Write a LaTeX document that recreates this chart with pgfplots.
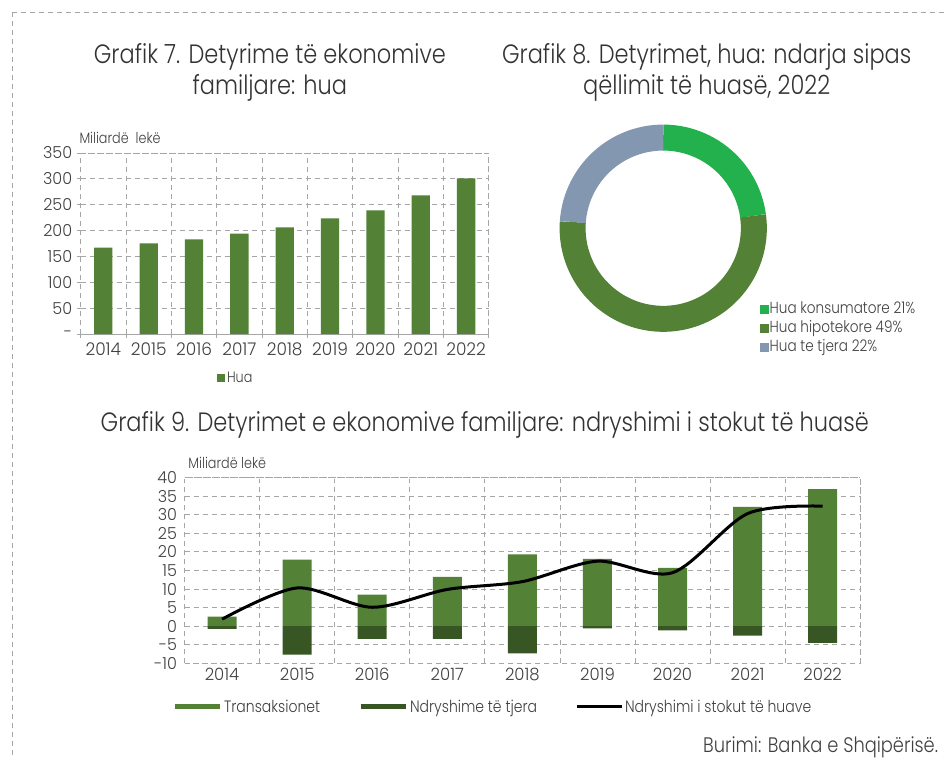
\documentclass[border=0pt]{standalone}
\usepackage{pgfplots}
\pgfplotsset{compat=1.18}
\usepackage{fontspec}
\setmainfont{Poppins}[FakeStretch=0.85, UprightFont=* Light]
\newfontfamily\tickfont{Poppins}[FakeStretch=0.97, UprightFont=* Light]
\definecolor{hua}{HTML}{538135}
\definecolor{dgreen}{HTML}{375623}
\definecolor{cons}{HTML}{22B14C}
\definecolor{other}{HTML}{8497B0}
\definecolor{txt}{HTML}{404040}
\definecolor{ttl}{HTML}{333333}
\definecolor{gridc}{HTML}{A6A6A6}
\newcommand{\fs}[1]{\fontsize{#1}{#1}\selectfont}
% donut data
\def\vA{21}\def\vB{49}\def\vC{22}
\pgfmathsetmacro\tot{\vA+\vB+\vC}
\pgfmathsetmacro\aA{90-360*(\vA/\tot)}
\pgfmathsetmacro\aB{\aA-360*(\vB/\tot)}
\pgfmathsetmacro\aC{\aB-360*(\vC/\tot)}
\pgfplotsset{
  mygrid/.style={
    grid style={gridc, dash pattern=on 5pt off 4pt, line width=0.8pt},
    minor grid style={gridc, dash pattern=on 5pt off 4pt, line width=0.8pt},
    axis line style={gridc, dash pattern=on 5pt off 4pt, line width=0.8pt},
  },
}
\begin{document}
\begin{tikzpicture}[x=1pt,y=1pt]
\path (0pt,0pt) rectangle (946pt,764pt);
\draw[gridc, line width=0.8pt, dash pattern=on 5pt off 4pt] (12pt,752pt) -- (946pt,752pt);
\draw[gridc, line width=0.8pt, dash pattern=on 5pt off 4pt] (12pt,752pt) -- (12pt,6pt);

% titles
\node[ttl, align=center, font=\fontsize{26.5}{31}\selectfont] at (270pt,692pt) {Grafik 7. Detyrime të ekonomive\\familjare: hua};
\node[ttl, align=center, font=\fontsize{26.5}{31}\selectfont] at (707pt,692pt) {Grafik 8. Detyrimet, hua: ndarja sipas\\qëllimit të huasë, 2022};
\node[ttl, font=\fs{26.5}] at (485pt,339pt) {Grafik 9. Detyrimet e ekonomive familjare: ndryshimi i stokut të huasë};
\node[txt, anchor=west, font=\fs{15}] at (76pt,626pt) {Miliardë\ \ lekë};
\node[txt, anchor=west, font=\fs{15}] at (185pt,301pt) {Miliardë lekë};
\node[txt, anchor=east, font=\fs{21}] at (942pt,16pt) {Burimi: Banka e Shqipërisë.};

% Grafik 7
\begin{axis}[at={(80.7pt,429.7pt)}, anchor=south west, scale only axis,
  width=408.3pt, height=181.3pt,
  xmin=-0.5, xmax=8.5, ymin=0, ymax=350,
  mygrid,
  xtick={0,...,8},
  xticklabels={2014,2015,2016,2017,2018,2019,2020,2021,2022},
  minor xtick={-0.5,0.5,...,8.5},
  xminorgrids=true, xmajorgrids=false, ymajorgrids=true,
  ytick={0,50,...,350},
  yticklabels={-,50,100,150,200,250,300,350},
  tick pos=left, tick align=center,
  major x tick style={draw=none},
  major y tick style={gridc, line width=0.8pt},
  minor x tick style={gridc, line width=0.8pt},
  major tick length=8pt, minor tick length=8pt,
  y tick label style={txt, font=\tickfont\fs{16.5}, xshift=-1pt},
  x tick label style={txt, font=\tickfont\fs{17.5}, yshift=-1pt},
  legend style={draw=none, fill=none, at={(0.38,-0.241)}, anchor=center,
    font=\fs{15}, text=txt, inner sep=0pt},
  legend image code/.code={\fill[hua] (0pt,-4pt) rectangle (8pt,4pt);},
]
\addplot[ybar, bar width=18.3pt, bar shift=0pt, fill=hua, draw=none]
  coordinates {(0,167) (1,175.4) (2,183) (3,194) (4,206) (5,223.6) (6,239) (7,268) (8,300.7)};
\addlegendentry{Hua}
\end{axis}

% Grafik 8
\begin{axis}[at={(663.5pt,535.7pt)}, anchor=center, scale only axis,
  width=207pt, height=207pt, xmin=-1, xmax=1, ymin=-1, ymax=1,
  hide axis, clip=false,
  legend cell align=left,
  legend style={draw=none, fill=none, at={(0.966,0.155)}, anchor=north west,
    font=\fs{16}, text=txt, inner sep=0pt, row sep=0pt,
    nodes={inner sep=1.5pt, text height=12pt, text depth=4pt}},
]
\addlegendimage{legend image code/.code={\fill[cons] (0pt,-4pt) rectangle (8pt,4pt);}}
\addlegendentry{Hua konsumatore 21\%}
\addlegendimage{legend image code/.code={\fill[hua] (0pt,-4pt) rectangle (8pt,4pt);}}
\addlegendentry{Hua hipotekore 49\%}
\addlegendimage{legend image code/.code={\fill[other] (0pt,-4pt) rectangle (8pt,4pt);}}
\addlegendentry{Hua te tjera 22\%}
\addplot[forget plot, cons, line width=26pt, domain=\aA:90, samples=90] ({0.876*cos(x)},{0.876*sin(x)});
\addplot[forget plot, hua, line width=26pt, domain=\aB:\aA, samples=150] ({0.876*cos(x)},{0.876*sin(x)});
\addplot[forget plot, other, line width=26pt, domain=\aC:\aB, samples=90] ({0.876*cos(x)},{0.876*sin(x)});
\end{axis}

% Grafik 9
\begin{axis}[at={(184.6pt,100.3pt)}, anchor=south west, scale only axis,
  width=676pt, height=186pt,
  xmin=-0.5, xmax=8.5, ymin=-10, ymax=40,
  mygrid,
  xtick={0,...,8},
  xticklabels={2014,2015,2016,2017,2018,2019,2020,2021,2022},
  minor xtick={-0.5,0.5,...,8.5},
  xminorgrids=true, xmajorgrids=false, ymajorgrids=true,
  ytick={-10,-5,...,40},
  yticklabels={-10,-5,0,5,10,15,20,25,30,35,40},
  tick pos=left,
  major tick length=0pt, minor tick length=0pt,
  y tick label style={txt, font=\tickfont\fs{16.5}, xshift=-4pt},
  x tick label style={txt, font=\tickfont\fs{17}, yshift=-1pt},
  legend columns=3,
  legend style={draw=none, fill=none, at={(-0.0186,-0.233)}, anchor=west,
    font=\fs{16.5}, text=txt, inner sep=0pt,
    /tikz/every even column/.append style={column sep=36pt}},
]
\addplot[ybar, bar width=29pt, bar shift=0pt, fill=hua, draw=none,
  legend image code/.code={\draw[hua, line width=5pt] (0pt,0pt) -- (45pt,0pt);}]
  coordinates {(0,2.6) (1,17.9) (2,8.5) (3,13.3) (4,19.3) (5,18.1) (6,15.7) (7,32.1) (8,36.9)};
\addlegendentry{Transaksionet}
\addplot[ybar, bar width=29pt, bar shift=0pt, fill=dgreen, draw=none,
  legend image code/.code={\draw[dgreen, line width=5pt] (0pt,0pt) -- (45pt,0pt);}]
  coordinates {(0,-0.7) (1,-7.6) (2,-3.4) (3,-3.4) (4,-7.3) (5,-0.6) (6,-1.1) (7,-2.5) (8,-4.5)};
\addlegendentry{Ndryshime të tjera}
\addplot[black, line width=3pt, smooth, mark=none,
  legend image code/.code={\draw[black, line width=3pt] (0pt,0pt) -- (45pt,0pt);}]
  coordinates {(0,1.9) (1,10.3) (2,5.1) (3,9.9) (4,12.0) (5,17.5) (6,14.4) (7,30.3) (8,32.3)};
\addlegendentry{Ndryshimi i stokut të huave}
\end{axis}
\end{tikzpicture}
\end{document}
